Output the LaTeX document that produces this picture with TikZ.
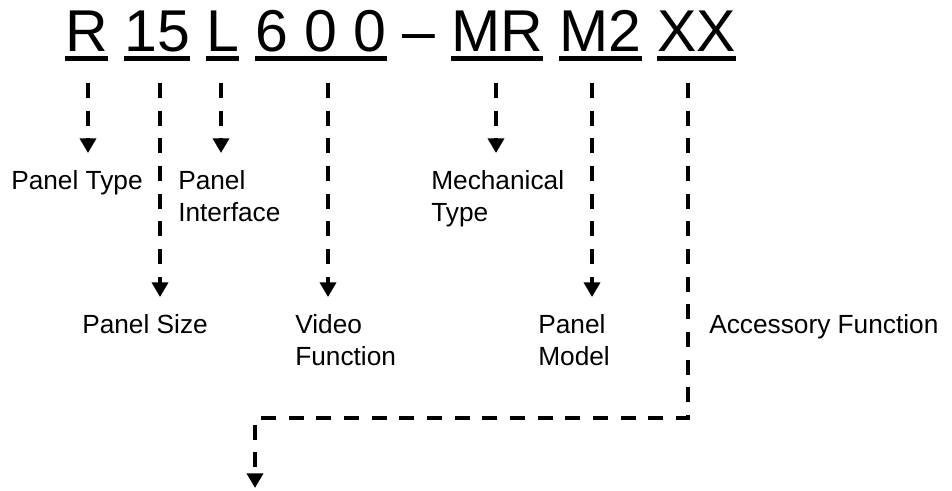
\documentclass[tikz,border=0pt]{standalone}
\usepackage{fontspec}
\setmainfont{Liberation Sans}
\usetikzlibrary{arrows.meta}
\begin{document}
\begin{tikzpicture}[x=0.75pt,y=-0.75pt,
  code/.style={inner sep=0pt, anchor=base west, font=\fontsize{44.25}{50}\selectfont},
  uline/.style={line width=3.6pt},
  lbl/.style={inner sep=0pt, anchor=base west, font=\fontsize{19.7}{24}\selectfont},
  dline/.style={line width=3pt, dash pattern=on 11.25pt off 9.5pt, -{Triangle[length=11pt,width=12pt]}},
]
\useasboundingbox (0,0) rectangle (952,491);
% code line
\node[code] (gR)   at (65,52)  {R};
\node[code] (g15)  at (124,52) {15};
\node[code] (gL)   at (206,52) {L};
\node[code] (g600) at (255,52) {6 0 0};
\node[code] (gdash) at (402,52) {–};
\node[code] (gMR)  at (451,52) {MR};
\node[code] (gM2)  at (559,52) {M2};
\node[code] (gXX)  at (657,52) {XX};
\foreach \n in {gR,g15,gL,g600,gMR,gM2,gXX}
  \draw[uline] ([yshift=-4.9pt]\n.base west) -- ([yshift=-4.9pt]\n.base east);
% labels
\node[lbl] (ptype) at (11,190)  {Panel Type};
\node[lbl] (pintf) at (178,190) {\begin{tabular}[t]{@{}l@{}}Panel\\Interface\end{tabular}};
\node[lbl] (mtype) at (431,190) {\begin{tabular}[t]{@{}l@{}}Mechanical\\Type\end{tabular}};
\node[lbl] (psize) at (82,334)  {Panel Size};
\node[lbl] (vfunc) at (295,334) {\begin{tabular}[t]{@{}l@{}}Video\\Function\end{tabular}};
\node[lbl] (pmodel) at (538,334) {\begin{tabular}[t]{@{}l@{}}Panel\\Model\end{tabular}};
\node[lbl] (afunc) at (709,334) {Accessory Function};
% connector end points
\coordinate (s1) at (88,83);  \coordinate (t1) at (88,153);
\coordinate (s2) at (160,83); \coordinate (t2) at (160,297);
\coordinate (s3) at (221,83); \coordinate (t3) at (221,153);
\coordinate (s4) at (328,83); \coordinate (t4) at (328,297);
\coordinate (s5) at (496,83); \coordinate (t5) at (496,153);
\coordinate (s6) at (592,83); \coordinate (t6) at (592,297);
\coordinate (s7) at (688,83); \coordinate (c7a) at (688,418);
\coordinate (c7b) at (255,418); \coordinate (t7) at (255,488);
\draw[dline] (s1) -- (t1);
\draw[dline] (s2) -- (t2);
\draw[dline] (s3) -- (t3);
\draw[dline] (s4) -- (t4);
\draw[dline] (s5) -- (t5);
\draw[dline] (s6) -- (t6);
\draw[dline] (s7) -- (c7a) -- (c7b) -- (t7);
\end{tikzpicture}
\end{document}
